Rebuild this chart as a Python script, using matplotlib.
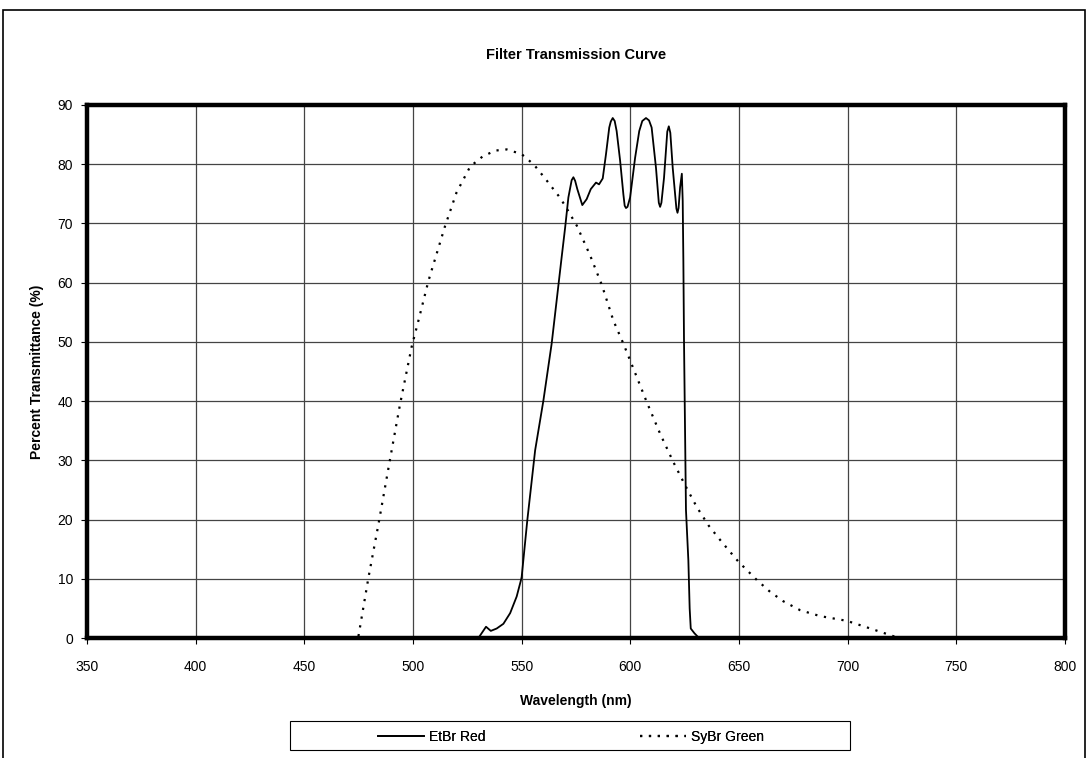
import matplotlib.pyplot as plt
from matplotlib.patches import Rectangle
from matplotlib.lines import Line2D

plt.rcParams['font.family'] = ['Liberation Sans', 'DejaVu Sans']

# EtBr Red filter
red_nm = [530.1, 533.6, 535.8, 538.5, 541.6, 544.7, 547.7, 549.7, 550.0, 552.6,
          556.2, 560.0, 563.8, 566.1, 568.4, 570.0, 571.5, 573.0, 573.8, 574.6,
          575.6, 577.9, 579.9, 581.8, 584.2, 585.6, 587.3, 588.8, 590.3, 591.0,
          591.9, 592.8, 593.7, 595.3, 596.8, 597.4, 598.0, 598.7, 599.9, 602.2,
          604.1, 605.5, 607.2, 608.6, 609.8, 611.8, 613.1, 613.7, 614.3, 615.5,
          617.0, 617.7, 618.4, 619.5, 621.2, 621.7, 622.2, 622.9, 623.7, 624.1,
          624.4, 624.7, 625.6, 626.7, 627.3, 627.8, 629.5, 631.6]
red_pct = [0.0, 1.9, 1.2, 1.6, 2.4, 4.2, 7.0, 9.8, 10.3, 19.9,
           31.7, 40.1, 49.7, 57.0, 64.3, 69.3, 74.4, 77.3, 77.8, 77.2,
           75.8, 73.1, 74.1, 75.8, 76.9, 76.6, 77.6, 81.7, 86.2, 87.2,
           87.8, 87.3, 85.6, 80.6, 74.9, 73.0, 72.6, 72.8, 74.4, 81.1,
           85.6, 87.3, 87.8, 87.4, 86.2, 79.4, 73.5, 72.8, 73.5, 77.7,
           85.5, 86.4, 85.3, 79.4, 72.5, 71.8, 72.6, 76.1, 78.4, 73.8,
           63.7, 50.0, 21.6, 13.1, 5.0, 1.6, 0.8, 0.0]

# SyBr Green filter
green_nm = [474.9, 479.5, 484.1, 489.0, 494.0, 499.4, 502.5, 507.1, 514.7, 520.0,
            526.3, 532.0, 537.8, 543.1, 550.0, 555.7, 561.0, 566.9, 570.0, 575.4,
            581.5, 586.9, 592.2, 596.8, 600.2, 607.6, 613.7, 619.8, 625.2, 630.6,
            636.0, 642.1, 649.7, 658.2, 664.3, 670.4, 678.1, 687.3, 699.6, 708.8,
            719.5, 723.4]
green_pct = [0.3, 10.2, 19.2, 29.3, 39.4, 49.2, 53.6, 60.3, 69.5, 75.2,
             79.6, 81.3, 82.3, 82.5, 81.7, 79.9, 77.5, 74.7, 73.0, 69.6,
             64.6, 59.6, 53.6, 49.7, 46.6, 39.8, 34.5, 29.7, 25.8, 22.1,
             19.0, 16.2, 12.9, 9.8, 7.8, 6.2, 4.7, 3.7, 2.9, 1.8,
             0.5, 0.0]

x_ticks = list(range(350, 801, 50))
y_ticks = list(range(0, 91, 10))

W, H = 1089, 758
fig = plt.figure(figsize=(W / 100, H / 100), dpi=100)
ax = fig.add_axes([87 / W, 1 - 638 / H, (1065 - 87) / W, (638 - 105) / H])

# outer chart frame
fig.patches.append(Rectangle((3 / W, -0.02), 1082 / W, 1.02 - 10 / H,
                             transform=fig.transFigure, fill=False,
                             edgecolor='black', linewidth=1.2))

red_style = dict(color='black', linewidth=1.3)
green_style = dict(color='black', linewidth=1.6, linestyle=(0, (1, 3)))
ax.plot(red_nm, red_pct, solid_joinstyle='round', zorder=3, **red_style)
ax.plot(green_nm, green_pct, zorder=3, **green_style)

ax.set_xlim(350, 800)
ax.set_ylim(0, 90)
ax.set_xticks(x_ticks)
ax.set_yticks(y_ticks)
ax.grid(True, color='#444444', linewidth=0.9)
ax.set_axisbelow(True)
for sp in ax.spines.values():
    sp.set_linewidth(3.2)
ax.tick_params(direction='out', length=4, width=0.8, labelsize=10)
ax.tick_params(axis='x', pad=12)
ax.tick_params(axis='y', pad=6)

ax.set_title('Filter Transmission Curve', fontsize=10.5, fontweight='bold', pad=33)
ax.set_xlabel('Wavelength (nm)', fontsize=10, fontweight='bold', labelpad=14)
ax.set_ylabel('Percent Transmittance (%)', fontsize=10, fontweight='bold', labelpad=10)

# legend box with two centred entries
fig.patches.append(Rectangle((290 / W, 1 - 750 / H), 560 / W, 29 / H,
                             transform=fig.transFigure, fill=False,
                             edgecolor='black', linewidth=0.8))
entries = [('EtBr Red', red_style, 378), ('SyBr Green', green_style, 640)]
for label, style, x0 in entries:
    leg = fig.legend([Line2D([], [], **style)], [label], loc='center left',
                     bbox_to_anchor=(x0 / W, 1 - 737 / H), frameon=False,
                     fontsize=10, handlelength=3.3, handletextpad=0.35,
                     borderpad=0, borderaxespad=0)
    fig.add_artist(leg)

fig.savefig('out.png', dpi=100)
